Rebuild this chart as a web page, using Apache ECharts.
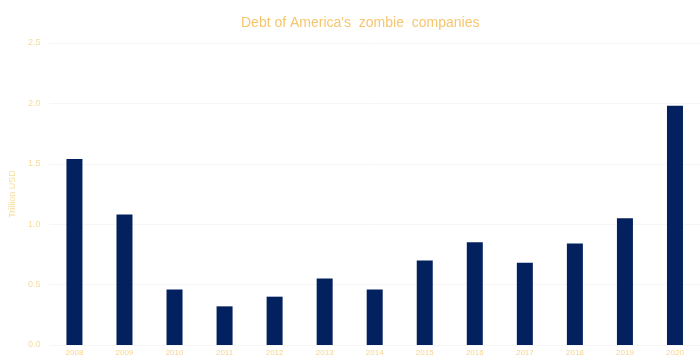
<!DOCTYPE html>
<html>
<head>
<meta charset="utf-8">
<script src="https://cdn.jsdelivr.net/npm/echarts@6/dist/echarts.min.js"></script>
<style>html,body{margin:0;padding:0;background:#fff}#c{width:700px;height:358px}</style>
</head>
<body>
<div id="c"></div>
<script>
const years = ['2008','2009','2010','2011','2012','2013','2014','2015','2016','2017','2018','2019','2020'];
const debt = [1.54, 1.08, 0.46, 0.32, 0.40, 0.55, 0.46, 0.70, 0.85, 0.68, 0.84, 1.05, 1.98];
const yTicks = [0, 0.5, 1.0, 1.5, 2.0, 2.5];

const chart = echarts.init(document.getElementById('c'));
chart.setOption({
  animation: false,
  backgroundColor: '#ffffff',
  title: {
    text: "Debt of America's  zombie  companies",
    left: 236,
    top: 11,
    textStyle: { color: '#f6c66e', fontSize: 14, fontWeight: 'normal', fontFamily: 'Liberation Sans, Arial, sans-serif' }
  },
  grid: { left: 47, right: -8, top: 43, bottom: 13, containLabel: false },
  xAxis: {
    type: 'category',
    data: years,
    axisLine: { show: false },
    axisTick: { show: false },
    axisLabel: { color: '#f7d48f', fontSize: 8, margin: 4, interval: 0, fontFamily: 'Liberation Sans, Arial, sans-serif' }
  },
  yAxis: {
    type: 'value',
    min: 0, max: 2.5, interval: 0.5,
    name: 'Trillion USD',
    nameLocation: 'middle',
    nameGap: 31,
    nameTextStyle: { color: '#f7dc9c', fontSize: 9, fontFamily: 'Liberation Sans, Arial, sans-serif' },
    axisLine: { show: false },
    axisTick: { show: false },
    splitLine: { lineStyle: { color: '#f6f6f6', width: 1 } },
    axisLabel: {
      color: '#f7dc9c', fontSize: 9, margin: 9, fontFamily: 'Liberation Sans, Arial, sans-serif',
      formatter: v => (yTicks.includes(v) ? v.toFixed(1) : '')
    }
  },
  series: [{
    type: 'bar',
    data: debt,
    barWidth: 16,
    itemStyle: { color: '#03215f' }
  }]
});
</script>
</body>
</html>
